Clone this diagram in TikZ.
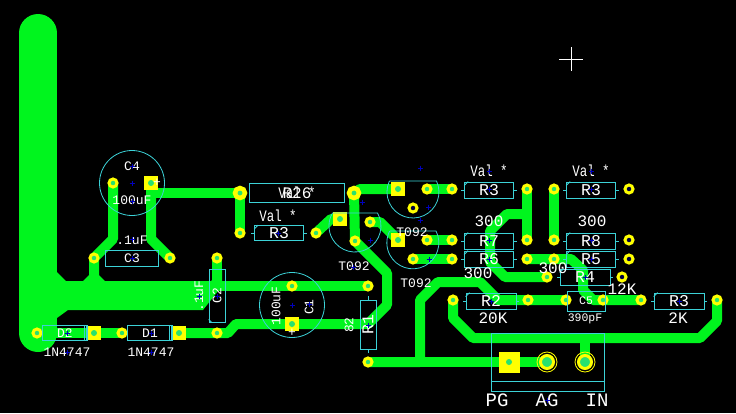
\documentclass[tikz,border=0pt]{standalone}
\usepackage{fontspec}
\setmonofont{Liberation Mono}
\pgfdeclarelayer{copper}
\pgfsetlayers{copper,main}
\definecolor{trackgreen}{RGB}{0,245,30}
\definecolor{holegreen}{RGB}{40,225,110}
\definecolor{padyellow}{RGB}{255,255,0}
\definecolor{silkcyan}{RGB}{60,210,215}
\definecolor{marknavy}{RGB}{0,0,190}
\newcommand{\valtext}{\scalebox{0.78}[1]{Val *}}
\tikzset{
	track/.style={draw=trackgreen,line width=10pt,line cap=round,line join=round},
	silk/.style={draw=silkcyan,line width=0.8pt},
	pad/.style={circle,draw=padyellow,fill=holegreen,line width=3pt,minimum size=8pt,inner sep=0pt},
	padfree/.style={pad,fill=marknavy!35!black},
	padbig/.style={pad,line width=4.5pt,minimum size=10pt},
	padconn/.style={pad,line width=3pt,minimum size=13pt},
	padring/.style={circle,draw=padyellow,line width=0.8pt,minimum size=20pt,inner sep=0pt},
	padsq/.style={rectangle,fill=padyellow,inner sep=0pt,minimum size=14pt,
		path picture={\fill[holegreen] (path picture bounding box.center) circle (3pt);}},
	part/.style={rectangle,silk,text=white,font=\ttfamily\fontsize{16.5}{16.5}\selectfont,inner sep=0pt},
	partsmall/.style={part,font=\ttfamily\fontsize{13}{13}\selectfont},
	lbl/.style={text=white,font=\ttfamily\fontsize{13}{13}\selectfont,inner sep=0pt},
	lblwide/.style={text=white,font=\ttfamily\fontsize{16}{16}\selectfont,inner sep=0pt},
	lblsmall/.style={text=white,font=\ttfamily\fontsize{11.5}{11.5}\selectfont,inner sep=0pt},
	lblbig/.style={text=white,font=\ttfamily\fontsize{19}{19}\selectfont,inner sep=0pt},
}
\begin{document}
\begin{tikzpicture}[x=1pt,y=-1pt]
	\useasboundingbox (0,0) rectangle (736,413);
	\foreach \n/\x/\y in {c4a/113/183,c3a/94/258,c3b/170/258,c2a/217/258,c2b/217/333,d2a/37/333,d1a/122/333,
		vb/240/233,rl/316/233,qa/370/222,qb/355/241,qc/427/189,qd/452/189,qe/427/240,qf/452/240,qg/413/259,qh/452/259,
		ra/527/189,rb/554/189,rc/527/240,rd/554/240,re/527/259,rf/554/259,rg/547/277,
		ta/453/300,tb/528/300,tc/566/300,td/603/300,te/641/300,tf/717/300,
		ca/292/286,cb/368/286,cc/368/362}
		\node[pad] (\n) at (\x,\y) {};
	\foreach \n/\x/\y in {qi/413/208,ua/629/189,ub/629/240,uc/629/259,ud/622/277}
		\node[padfree] (\n) at (\x,\y) {};
	\foreach \n/\x/\y in {va/240/193,vc/354/193}
		\node[padbig] (\n) at (\x,\y) {};
	\foreach \n/\x/\y in {c4b/151/183,d2b/94/333,d1b/179/333,cd/292/324,qj/340/219,qk/398/189,ql/398/240}
		\node[padsq] (\n) at (\x,\y) {};
	\node[padsq,minimum size=21pt] (jb) at (509,362) {};
	\foreach \n/\x/\y in {jg/547/362,ji/585/362} {
		\node[padconn] (\n) at (\x,\y) {};
		\node[padring] (\n ring) at (\x,\y) {};
	}
	\begin{pgfonlayer}{copper}
		\fill[black] (0,0) rectangle (736,413);
		\draw[track,line width=38pt] (38,33) -- (38,333);
		\fill[trackgreen] (57,272) -- (66,281) -- (211,281) -- (222,270) -- (222,286) -- (203,310) -- (68,310) -- (57,318) -- cycle;
		\fill[trackgreen] (89,258) -- (99,258) -- (99,275) -- (106,282) -- (82,282) -- (89,275) -- cycle;
		\draw[track] (c3a.center) -- (113,239) -- (c4a.center);
		\draw[track] (c3b.center) -- (151,239) -- (c4b.center);
		\draw[track] (c4b.center) -- (151,193) -- (va.center) -- (vb.center);
		\draw[track] (c2a.center) -- (217,286) -- (ca.center) -- (cb.center);
		\draw[track] (d2a.center) -- (d2b.center) -- (d1a.center);
		\draw[track] (d1b.center) -- (c2b.center) -- (228,333) -- (236,324) -- (cd.center) -- (368,324) -- (387,305) -- (387,273) -- (qb.center) -- (vc.center) -- (360,189) -- (qk.center);
		\draw[track] (rl.center) -- (331,219) -- (qj.center);
		\draw[track] (qa.center) -- (380,222) -- (ql.center);
		\draw[track] (qc.center) -- (qd.center);
		\draw[track] (qe.center) -- (qf.center);
		\draw[track] (qg.center) -- (qh.center);
		\draw[track] (ra.center) -- (rc.center);
		\draw[track] (rb.center) -- (rd.center);
		\draw[track] (527,214) -- (507,214) -- (490,231) -- (490,262) -- (505,277) -- (rg.center);
		\draw[track] (re.center) -- (571,259) -- (583,270) -- (583,290) -- (593,300) -- (te.center);
		\draw[track] (cc.center) -- (420,362) -- (420,300) -- (438,282) -- (480,282) -- (498,300) -- (tc.center);
		\draw[track] (cc.center) -- (jb.center) -- (jg.center);
		\draw[track] (ta.center) -- (453,318) -- (473,338) -- (700,338) -- (717,321) -- (tf.center);
		\draw[track] (ji.center) -- (585,338);
	\end{pgfonlayer}
	\foreach \n/\t/\x/\y/\w/\h in {bxc3/C3/132/258/53/16,bxd2/D2/65/333/45/15,bxd1/D1/150/333/45/15,bxva/{}/297/193/95/19}
		\node[partsmall,minimum width=\w pt,minimum height=\h pt] (\n) at (\x,\y) {\t};
	\foreach \n/\t/\x/\y/\w/\h in {bxrl/R3/279/233/49/15,
		bxra/R3/489/190/49/16,bxrb/R3/591/190/49/16,bxrc/R7/489/241/49/16,bxrd/R8/591/241/49/16,
		bxre/R6/489/259/49/16,bxrf/R5/591/259/49/16,bxrg/R4/585/277/50/16,bxrh/R2/491/301/50/16,bxri/R3/679/301/50/16}
		\node[part,minimum width=\w pt,minimum height=\h pt] (\n) at (\x,\y) {\t};
	\node[partsmall,minimum width=38pt,minimum height=20pt,font=\ttfamily\fontsize{11.5}{11.5}\selectfont] (bxc5) at (586,301) {C5};
	\node[partsmall,minimum width=16pt,minimum height=53pt] (bxc2) at (217,295.5) {\rotatebox{90}{C2}};
	\node[part,minimum width=16pt,minimum height=49pt] (bxr1) at (368,324.5) {\rotatebox{90}{R1}};
	\node[circle,silk,minimum size=65pt,inner sep=0pt] (rimc4) at (132,183) {};
	\node[circle,silk,minimum size=65pt,inner sep=0pt] (rimc1) at (292,305) {};
	\foreach \n in {bxrl,bxra,bxrb,bxrc,bxrd,bxre,bxrf,bxrg,bxrh,bxri} {
		\draw[silk] (\n.west) -- ++(-3,0);
		\draw[silk] (\n.east) -- ++(3,0);
		\draw[silk] (\n.north west) ++(0,4) -- ++(4,-4);
	}
	\draw[silk] (bxr1.north) -- ++(0,-4);
	\draw[silk] (bxr1.south) -- ++(0,4);
	\draw[silk] (bxd2.east) ++(-4,-7.5) -- ++(0,15);
	\draw[silk] (bxd2.east) ++(-2,-7.5) -- ++(0,15);
	\draw[silk] (bxd1.east) ++(-4,-7.5) -- ++(0,15);
	\draw[silk] (bxd1.east) ++(-2,-7.5) -- ++(0,15);
	\draw[silk] (bxc2.south west) ++(0,-3) -- ++(3,3);
	\draw[silk] (332.5,213) -- (377.5,213) arc (-30:210:26);
	\draw[silk] (389.5,181) -- (436.5,181) arc (-25:205:26);
	\draw[silk] (390,231) -- (436,231) arc (-27:207:26);
	\node[rectangle,silk,minimum width=113pt,minimum height=58pt] (bxconn) at (547.5,362) {};
	\draw[silk] (bxconn.west |- 0,381) -- (bxconn.east |- 0,381);
	\foreach \t/\x/\y [count=\i] in {C4/132/166,100uF/132/200,.1uF/132/240,+/157/183,1N4747/67/352,1N4747/151/352,
		T092/354/266,T092/412/232,T092/416/283,+/292/333}
		\node[lbl] (lab\i) at (\x,\y) {\t};
	\foreach \t/\x/\y [count=\i] in {\valtext/278/216,\valtext/489/171,\valtext/591/171,300/489/221,300/592/221,300/478/273,300/553/268,
		12K/622/289,20K/493/318,2K/678/318,\valtext/297/193,R26/297/193}
		\node[lblwide] (val\i) at (\x,\y) {\t};
	\node[lblsmall] (lab390) at (585,319) {390pF};
	\node[lblbig] (labpg) at (497,400) {PG};
	\node[lblbig] (labag) at (547,400) {AG};
	\node[lblbig] (labin) at (597,400) {IN};
	\foreach \t/\x/\y [count=\i] in {.1uF/199/296,100uF/276/306,C1/309/307,82/349/325}
		\node[lbl,rotate=90] (rot\i) at (\x,\y) {\t};
	\foreach \x/\y in {132/166,132/183,132/201,67/333,151/333,67/352,151/352,132/239,132/258,217/296,199/296,292/305,309/304,
		420/168,362/202,428/207,420/220,370/240,278/233,353/267,429/259,489/171,489/189,591/171,591/189,489/240,591/240,
		489/259,591/259,585/277,491/301,679/301,547/400,368/325} {
		\draw[marknavy,line width=0.7pt] (\x-2.5,\y) -- (\x+2.5,\y);
		\draw[marknavy,line width=0.7pt] (\x,\y-2.5) -- (\x,\y+2.5);
	}
	\draw[white,line width=0.7pt] (559,59) -- (583,59);
	\draw[white,line width=0.7pt] (571,47) -- (571,71);
\end{tikzpicture}
\end{document}
